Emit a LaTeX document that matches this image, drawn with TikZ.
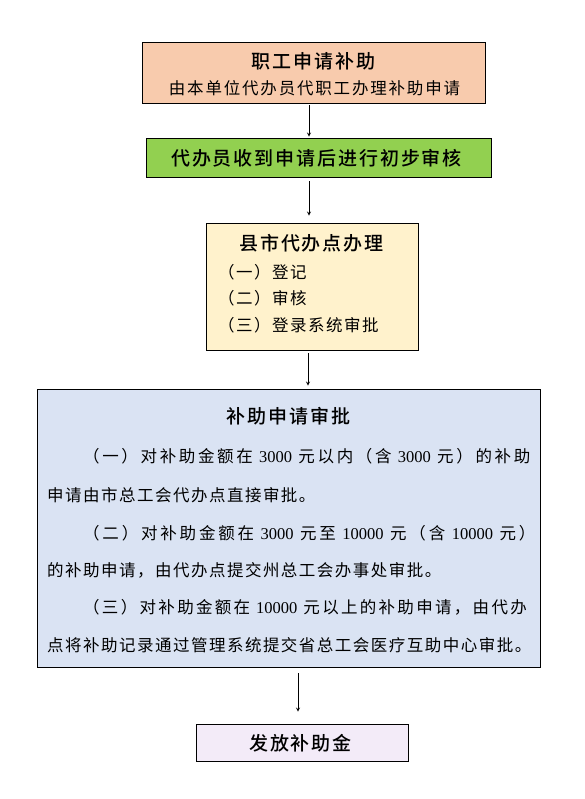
\documentclass[tikz,border=0pt]{standalone}
\usepackage{fontspec}
\usepackage{tikz}
\usepackage{xcolor}
\usetikzlibrary{calc}
\setmainfont{Liberation Serif}
\newfontfamily\cjk[LetterSpace=9]{Noto Sans CJK SC}
\newfontfamily\cjkhead[LetterSpace=10]{Noto Sans CJK SC Medium}
\definecolor{applyfill}{HTML}{F8CBAD}
\definecolor{checkfill}{HTML}{92D050}
\definecolor{countyfill}{HTML}{FFF2CC}
\definecolor{approvefill}{HTML}{DAE3F3}
\definecolor{payfill}{HTML}{F3EBF8}
\newcommand{\shu}[1]{{\rmfamily #1}}

\begin{document}
\begin{tikzpicture}[x=1pt,y=-1pt]
        \tikzstyle{box}=[draw=black,line width=0.8pt,inner sep=0pt]
        \tikzstyle{head}=[inner sep=0pt,font=\cjkhead\fontsize{19}{22}\selectfont]
        \tikzstyle{body}=[inner sep=0pt,anchor=west,font=\cjk\fontsize{16.5}{20}\selectfont]
        \tikzstyle{spread}=[body,font=\cjk\addfontfeature{LetterSpace=#1}\fontsize{16.5}{20}\selectfont]
        \tikzstyle{arrow}=[->,>=stealth,line width=0.8pt]
            \useasboundingbox (0,0) rectangle (585,799);

            % boxes
            \node[box,fill=applyfill,minimum width=343pt,minimum height=61pt] (apply) at (313.5,72.5) {};
            \node[box,fill=checkfill,minimum width=345pt,minimum height=39pt] (check) at ($(apply)+(5,85)$) {};
            \node[box,fill=countyfill,minimum width=212pt,minimum height=127pt] (county) at ($(check)+(-6.5,129)$) {};
            \node[box,fill=approvefill,minimum width=503pt,minimum height=278pt] (approve) at ($(county)+(-23.5,241.5)$) {};
            \node[box,fill=payfill,minimum width=212pt,minimum height=37pt] (pay) at ($(approve)+(13.5,214.5)$) {};

            % texts
            \node[head] (applyT) at ($(apply)+(0,-11.5)$) {职工申请补助};
            \node[spread=11,anchor=center] (applyS) at ($(apply)+(1,15.5)$) {由本单位代办员代职工办理补助申请};

            \node[head] (checkT) at ($(check)+(-2,0.5)$) {代办员收到申请后进行初步审核};

            \node[head] (countyT) at ($(county)+(-0.5,-43.5)$) {县市代办点办理};
            \node[body] (county1) at ($(county)+(-94,-14.5)$) {（一）登记};
            \node[body] (county2) at ($(county)+(-94,11.5)$) {（二）审核};
            \node[body] (county3) at ($(county)+(-94,38.5)$) {（三）登录系统审批};

            \node[head] (approveT) at ($(approve)+(0,-112)$) {补助申请审批};
            \node[spread=16] (approve1) at ($(approve)+(-205.5,-72)$) {（一）对补助金额在 \shu{3000} 元以内（含 \shu{3000} 元）的补助};
            \node[body] (approve2) at ($(approve)+(-241.5,-33)$) {申请由市总工会代办点直接审批。};
            \node[spread=17] (approve3) at ($(approve)+(-205.5,5)$) {（二）对补助金额在 \shu{3000} 元至 \shu{10000} 元（含 \shu{10000} 元）};
            \node[body] (approve4) at ($(approve)+(-241.5,42)$) {的补助申请，由代办点提交州总工会办事处审批。};
            \node[spread=14] (approve5) at ($(approve)+(-205.5,79)$) {（三）对补助金额在 \shu{10000} 元以上的补助申请，由代办};
            \node[body] (approve6) at ($(approve)+(-241.5,117)$) {点将补助记录通过管理系统提交省总工会医疗互助中心审批。};

            \node[head] (payT) at ($(pay)+(-1.5,0.5)$) {发放补助金};

            % arrows
            \draw[arrow] ($(apply.south)+(-4.5,2)$) -- ($(check.north)+(-9.5,-1)$);
            \draw[arrow] ($(check.south)+(-9.5,4)$) -- ($(county.north)+(-3,-7)$);
            \draw[arrow] ($(county.south)+(-4,3)$) -- ($(approve.north)+(19.5,-3)$);
            \draw[arrow] ($(approve.south)+(9.5,6)$) -- ($(pay.north)+(-4,-12)$);

        \end{tikzpicture}
\end{document}
